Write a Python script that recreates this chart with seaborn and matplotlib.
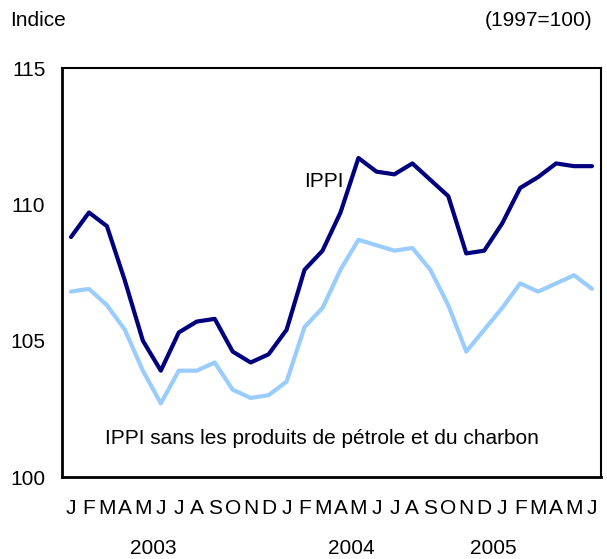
import numpy as np
import pandas as pd
import matplotlib
matplotlib.use('Agg')
import matplotlib.pyplot as plt
import seaborn as sns

months = ['J', 'F', 'M', 'A', 'M', 'J', 'J', 'A', 'S', 'O', 'N', 'D'] * 2 + ['J', 'F', 'M', 'A', 'M', 'J']
years = ['2003', '2004', '2005']
year_pos = [4.6, 15.6, 23.5]

ippi = [108.8, 109.7, 109.2, 107.2, 105.0, 103.9, 105.3, 105.7, 105.8, 104.6, 104.2, 104.5,
        105.4, 107.6, 108.3, 109.7, 111.7, 111.2, 111.1, 111.5, 110.9, 110.3, 108.2, 108.3,
        109.3, 110.6, 111.0, 111.5, 111.4, 111.4]
ippi_sans = [106.8, 106.9, 106.3, 105.4, 103.9, 102.7, 103.9, 103.9, 104.2, 103.2, 102.9, 103.0,
             103.5, 105.5, 106.2, 107.6, 108.7, 108.5, 108.3, 108.4, 107.6, 106.3, 104.6, 105.4,
             106.2, 107.1, 106.8, 107.1, 107.4, 106.9]

series_names = ['IPPI', 'IPPI sans les produits de pétrole et du charbon']
colors = ['#00007f', '#99ccff']

df = pd.DataFrame({
    'mois': list(range(len(months))) * 2,
    'indice': ippi + ippi_sans,
    'serie': [series_names[0]] * len(ippi) + [series_names[1]] * len(ippi_sans),
})

sns.set_style('white')
plt.rcParams['font.family'] = ['Liberation Sans', 'DejaVu Sans']
plt.rcParams['text.color'] = 'black'
plt.rcParams['xtick.color'] = 'black'
plt.rcParams['ytick.color'] = 'black'

fs = 15
fig = plt.figure(figsize=(6.07, 5.59), dpi=100)
ax = fig.add_axes([62 / 607, 1 - 477 / 559, 539 / 607, 409 / 559])

sns.lineplot(data=df, x='mois', y='indice', hue='serie', palette=colors,
             linewidth=3, legend=False, ax=ax)

ax.set_xlim(-0.5, len(months) - 0.5)
ax.set_ylim(100, 115)
ax.set_yticks([100, 105, 110, 115])
ax.set_xticks(range(len(months)))
ax.set_xticklabels(months, fontsize=fs)
ax.set_xticks(np.arange(0.5, len(months) - 1, 1), minor=True)
ax.tick_params(axis='x', which='major', length=0, pad=16)
ax.tick_params(axis='x', which='minor', direction='in', length=5, width=1.2)
ax.tick_params(axis='y', direction='out', length=7, width=1.5, labelsize=fs, pad=5)
ax.set_xlabel('')
ax.set_ylabel('')
for s in ax.spines.values():
    s.set_color('black')
    s.set_linewidth(1.5)
ax.spines['left'].set_linewidth(2)
ax.spines['bottom'].set_linewidth(2)

for yr, xp in zip(years, year_pos):
    ax.text(xp, -0.174, yr, transform=ax.get_xaxis_transform(), ha='center', va='center', fontsize=fs)

ax.text(14.1, 110.82, series_names[0], ha='center', va='center', fontsize=fs)
ax.text(13.94, 101.43, series_names[1], ha='center', va='center', fontsize=fs)

fig.text(10 / 607, 1 - 20 / 559, 'Indice', ha='left', va='center', fontsize=fs)
fig.text(592 / 607, 1 - 20 / 559, '(1997=100)', ha='right', va='center', fontsize=fs)

fig.savefig('out.png', dpi=100)
